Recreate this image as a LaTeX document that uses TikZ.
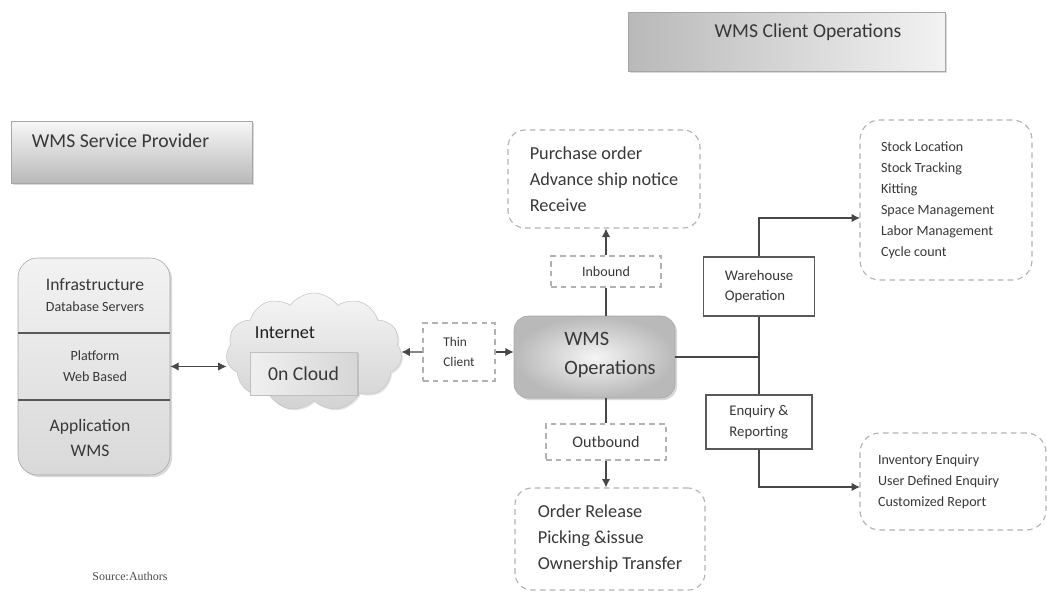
\documentclass[tikz,border=0pt]{standalone}
\usepackage{fontspec}
\setmainfont{Carlito}
\newfontfamily\srcfont{Liberation Serif}
\usetikzlibrary{arrows.meta,shapes.symbols,shadows}
\newlength{\pxu}\setlength{\pxu}{0.025cm}

\begin{document}
\begin{tikzpicture}[x=0.025cm,y=-0.025cm,
    every node/.style={text=black!78},
    shadebox/.style={draw=gray!70, drop shadow={opacity=0.3,shadow xshift=1.5pt,shadow yshift=-1.5pt}},
    dashbox/.style={draw=gray!60, dash pattern=on 4pt off 3pt, line width=0.8pt, rounded corners=12pt, align=left},
    thinbox/.style={draw=gray!60, dash pattern=on 4pt off 3pt, line width=0.8pt},
    plainbox/.style={draw=gray!70!black, line width=0.8pt, align=left},
    conn/.style={draw=black!72, line width=0.9pt},
    arr/.style={conn, -{Latex[length=6pt,width=6pt]}},
    dbl/.style={conn, {Latex[length=6pt,width=6pt]}-{Latex[length=6pt,width=6pt]}}]
    \useasboundingbox (0,0) rectangle (1047,592);

    % Titulos
    \node[shadebox, left color=gray!55, right color=gray!10, minimum width=317\pxu, minimum height=59\pxu] (client) at (786.5,41.5) {};
    \node[font=\fontsize{14}{16}\selectfont] (clientlbl) at (808,32) {WMS Client Operations};
    \node[shadebox, top color=gray!6, bottom color=gray!55, minimum width=241\pxu, minimum height=62\pxu] (provider) at (131.5,152) {};
    \node[anchor=west, font=\fontsize{14}{16}\selectfont] (providerlbl) at (27,141) {WMS Service Provider};

    % Proveedor
    \node[shadebox, rounded corners=14pt, top color=gray!10, bottom color=gray!30, minimum width=152\pxu, minimum height=217\pxu] (stack) at (94,366.5) {};
    \draw[gray!70!black, line width=0.9pt] (18,333) -- (170,333);
    \draw[gray!70!black, line width=0.9pt] (18,400) -- (170,400);
    \node[align=center, font=\fontsize{12.5}{17}\selectfont] (infra) at (95,295) {Infrastructure\\[-2pt]{\fontsize{10}{12}\selectfont Database Servers}};
    \node[align=center, font=\fontsize{10}{14.5}\selectfont] (platform) at (95,366) {Platform\\Web Based};
    \node[align=center, font=\fontsize{12.5}{17.5}\selectfont] (app) at (90,438) {Application\\WMS};

    % Nube
    \node[cloud, cloud puffs=11, cloud puff arc=110, aspect=1.5, draw=gray!45, top color=gray!8, bottom color=gray!35,
          minimum width=176\pxu, minimum height=118\pxu, drop shadow={opacity=0.2,shadow xshift=1pt,shadow yshift=-1pt}] (cloud) at (314,352) {};
    \node[font=\fontsize{13}{15}\selectfont, text=black!88] (internet) at (285,333) {Internet};
    \node[draw=gray!50, left color=gray!12, right color=gray!32, minimum width=107\pxu, minimum height=43\pxu,
          font=\fontsize{14}{16}\selectfont, drop shadow={opacity=0.3,shadow xshift=1.5pt,shadow yshift=-1pt}] (oncloud) at (303.5,373.5) {0n Cloud};

    % Cliente
    \node[thinbox, minimum width=72\pxu, minimum height=58\pxu, align=left, font=\fontsize{9.5}{14}\selectfont] (thin) at (459,352) {Thin\\Client};
    \node[shadebox, rounded corners=10pt, inner color=gray!8, outer color=gray!55, minimum width=161\pxu, minimum height=82\pxu] (ops) at (594.5,357) {};
    \node[align=left, font=\fontsize{14.5}{20}\selectfont] (opslbl) at (610,355) {WMS\\Operations};

    \node[thinbox, minimum width=110\pxu, minimum height=31\pxu, font=\fontsize{10}{12}\selectfont] (inb) at (606,271.5) {Inbound};
    \node[dashbox, minimum width=192\pxu, minimum height=98\pxu, font=\fontsize{13}{18.5}\selectfont] (purchase) at (604,179) {Purchase order\\Advance ship notice\\Receive};
    \node[thinbox, minimum width=120\pxu, minimum height=36\pxu, font=\fontsize{11.5}{13}\selectfont] (outb) at (606,442) {Outbound};
    \node[dashbox, minimum width=190\pxu, minimum height=102\pxu, font=\fontsize{13}{18.5}\selectfont] (order) at (610,539) {Order Release\\Picking \&issue\\Ownership Transfer};

    \node[plainbox, minimum width=111\pxu, minimum height=59\pxu, font=\fontsize{10.5}{14.5}\selectfont] (wh) at (759,286.5) {Warehouse\\Operation};
    \node[plainbox, minimum width=106\pxu, minimum height=54\pxu, font=\fontsize{10.5}{14.5}\selectfont] (enq) at (759,422) {Enquiry \&\\Reporting};
    \node[dashbox, rounded corners=14pt, text width=130\pxu, align=flush left, minimum width=172\pxu, minimum height=160\pxu, font=\fontsize{10}{15}\selectfont] (whlist) at (946,200)
        {Stock Location\\Stock Tracking\\Kitting\\Space Management\\Labor Management\\Cycle count};
    \node[dashbox, rounded corners=14pt, text width=150\pxu, align=flush left, minimum width=186\pxu, minimum height=97\pxu, font=\fontsize{10}{15}\selectfont] (enqlist) at (953,481.5)
        {Inventory Enquiry\\User Defined Enquiry\\Customized Report};
    \coordinate (whin) at (860,218);
    \coordinate (enqin) at (860,487);

    % Conexiones
    \draw[dbl] (stack.east) -- (stack.east -| cloud.west);
    \draw[arr] (thin.west) -- (cloud.east);
    \draw[arr] (thin.east) -- (thin.east -| ops.west);
    \draw[conn] (ops.north -| inb.south) -- (inb.south);
    \draw[arr] (inb.north) -- (inb.north |- purchase.south);
    \draw[conn] (ops.south -| outb.north) -- (outb.north);
    \draw[arr] (outb.south) -- (outb.south |- order.north);
    \draw[conn] (ops.east) -- (ops.east -| wh.south);
    \draw[conn] (wh.south) -- (enq.north);
    \draw[arr] (wh.north) |- (whin);
    \draw[arr] (enq.south) |- (enqin);

    \node[font=\srcfont\fontsize{8.5}{10}\selectfont, text=black!70] (src) at (130,576) {Source:Authors};
\end{tikzpicture}
\end{document}
